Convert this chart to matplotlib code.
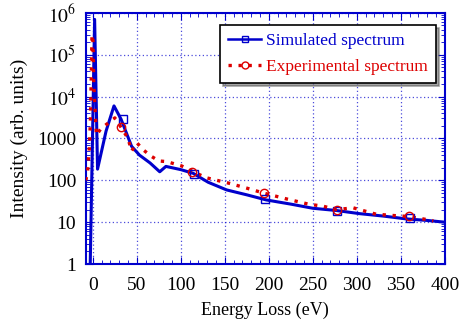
import numpy as np
import matplotlib.pyplot as plt
from matplotlib.ticker import FixedLocator, FuncFormatter, LogLocator, MultipleLocator, NullFormatter

plt.rcParams['font.family'] = ['Liberation Serif', 'DejaVu Serif']
plt.rcParams['mathtext.fontset'] = 'stix'

# simulated spectrum
sim_x = [-3, 2, 5.3, 15, 24, 32, 44, 53, 65, 76, 83, 100, 114, 131, 152, 175, 197, 225, 250, 277, 303, 330, 356, 380, 400]
sim_y = [1, 7e5, 185, 1500, 6000, 2900, 650, 400, 260, 160, 215, 180, 147, 90, 59, 45, 34, 27, 21.5, 19, 16, 14, 12, 11, 10]
sim_mx = [34, 115, 196, 277, 360]
sim_my = [2900, 140, 36, 19, 12.5]

# experimental spectrum
exp_x = [-8, -6, -4, -3, -2, -1, 0, 1, 4, 9, 17, 25, 32, 40, 44, 50, 57, 66, 75, 84, 101, 114, 129, 154, 175,
         195, 220, 245, 262, 277, 296, 322, 340, 358, 375, 387]
exp_y = [100, 160, 600, 2000, 2e4, 3e5, 2.5e5, 2e4, 1200, 1700, 2300, 3100, 1850, 1000, 500, 790, 540, 380, 290, 280, 220, 160, 115, 86, 65,
         49, 36, 27, 24, 20, 22, 15.5, 14.5, 13.7, 12, 10.8]
exp_mx = [32, 113, 195, 277, 359]
exp_my = [1850, 160, 49, 20, 13.7]

blue = '#0000cc'
red = '#dd0000'

fig = plt.figure(figsize=(4.59, 3.22), dpi=100)
ax = fig.add_axes([0.187, 0.180, 0.782, 0.780])

ax.plot(sim_x, sim_y, color=blue, lw=2.2, zorder=3)
ax.plot(sim_mx, sim_my, ls='none', marker='s', ms=6, mfc='none', mec=blue, mew=1.0, zorder=4)
ax.plot(exp_x, exp_y, color=red, lw=2.4, ls=(0, (1, 2)), zorder=3)
ax.plot(exp_mx, exp_my, ls='none', marker='o', ms=6, mfc='none', mec=red, mew=1.0, zorder=4)

# legend proxies
h1, = ax.plot([], [], color=blue, lw=1.8, marker='s', ms=5, mfc='none', mec=blue)
h2, = ax.plot([], [], color=red, lw=2.4, ls=(0, (1, 2)), marker='o', ms=5, mfc='none', mec=red)
leg = ax.legend([h1, h2], ['Simulated spectrum', 'Experimental spectrum'], loc='upper right',
                bbox_to_anchor=(0.975, 0.95), fontsize=12.5, frameon=True, fancybox=False, shadow=True,
                handlelength=1.9, handletextpad=0.3, borderpad=0.45, labelspacing=0.55, borderaxespad=0)
leg.get_frame().set_edgecolor('black')
leg.get_frame().set_linewidth(1.2)
leg.get_texts()[0].set_color(blue)
leg.get_texts()[1].set_color(red)

ax.set_yscale('log')
ax.set_xlim(-8, 400)
ax.set_ylim(1, 1e6)

def ylab(v, pos):
    if v < 1e4:
        return '%d' % round(v)
    return r'$10^{%d}$' % round(np.log10(v))

ax.yaxis.set_major_locator(FixedLocator([1, 10, 100, 1000, 1e4, 1e5, 1e6]))
ax.yaxis.set_major_formatter(FuncFormatter(ylab))
ax.yaxis.set_minor_locator(LogLocator(base=10, subs=np.arange(2, 10)))
ax.yaxis.set_minor_formatter(NullFormatter())
ax.xaxis.set_major_locator(MultipleLocator(50))
ax.xaxis.set_minor_locator(MultipleLocator(10))

ax.grid(True, which='major', color=blue, ls=(0, (1, 2)), lw=0.9, alpha=0.7)
for s in ax.spines.values():
    s.set_color(blue)
    s.set_linewidth(1.5)
ax.tick_params(which='both', direction='in', top=True, right=True, color=blue, labelsize=14)
ax.tick_params(which='major', length=5, pad=7)
ax.tick_params(axis='x', which='major', pad=9)
ax.tick_params(which='minor', length=3)

ax.set_xlabel('Energy Loss (eV)', fontsize=13, labelpad=6)
ax.set_ylabel('Intensity (arb. units)', fontsize=14)
ax.yaxis.set_label_coords(-0.16, 0.5)

fig.savefig('out.png', dpi=100)
